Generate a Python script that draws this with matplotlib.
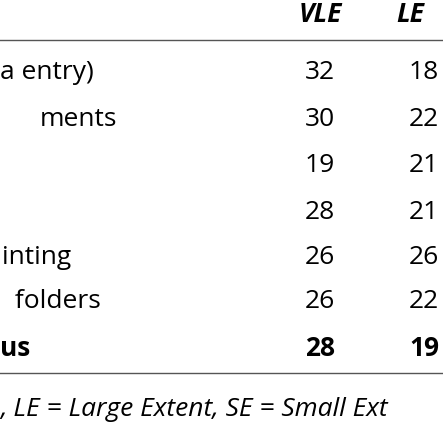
import matplotlib
matplotlib.use("Agg")
import matplotlib.pyplot as plt

row_labels = ["a entry)", "ments", "", "", "inting", " folders", "us"]
label_x = [0, 40, 0, 0, 2, 8, 0]
vle = [32, 30, 19, 28, 26, 26, 28]
le = [18, 22, 21, 21, 26, 22, 19]
headers = ["VLE", "LE"]
footer = ", LE = Large Extent, SE = Small Ext"

W = H = 443
fig = plt.figure(figsize=(4.43, 4.43), dpi=100)
ax = fig.add_axes([0, 0, 1, 1])
ax.set_xlim(0, W); ax.set_ylim(H, 0); ax.axis("off")
fam = ["Open Sans", "DejaVu Sans"]
fs = 19
ax.text(320, 14, headers[0], ha="center", va="center", fontsize=fs, fontweight="bold", style="italic", family=fam)
ax.text(410, 14, headers[1], ha="center", va="center", fontsize=fs, fontweight="bold", style="italic", family=fam)
ax.plot([0, W], [40, 40], color="#555", lw=1)
ys = [72, 119, 165, 212, 257, 302, 348]
for i, y in enumerate(ys):
    bold = "bold" if i == len(ys) - 1 else "normal"
    ax.text(label_x[i], y, row_labels[i], ha="left", va="center", fontsize=fs, fontweight=bold, family=fam)
    ax.text(320, y, str(vle[i]), ha="center", va="center", fontsize=fs, fontweight=bold, family=fam)
    ax.text(424, y, str(le[i]), ha="center", va="center", fontsize=fs, fontweight=bold, family=fam)
ax.plot([0, W], [373, 373], color="#555", lw=1)
ax.text(0, 410, footer, ha="left", va="center", fontsize=fs, style="italic", family=fam)
fig.savefig("out.png", dpi=100)
